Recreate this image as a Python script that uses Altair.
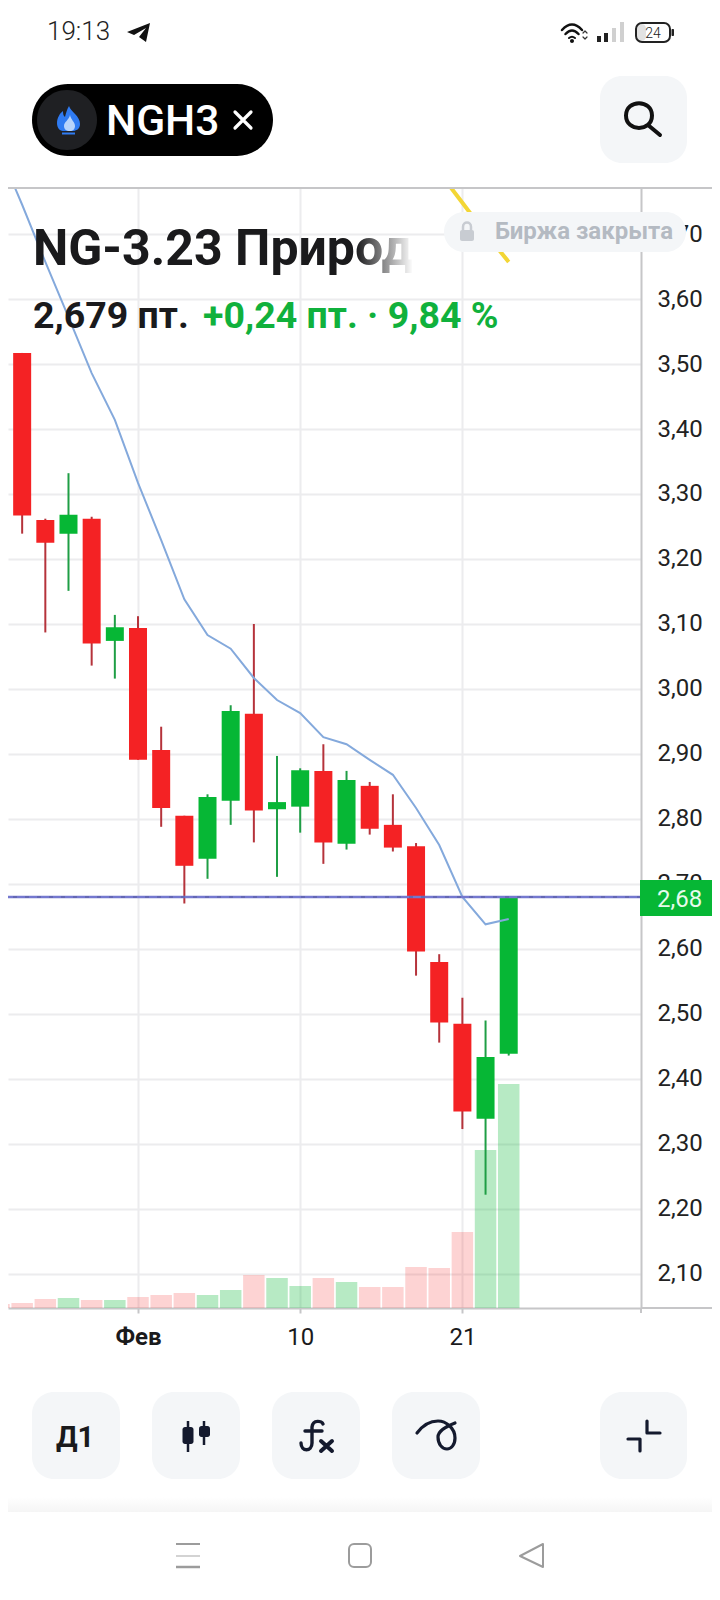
import re
import altair as alt
import pandas as pd

# ---------- chart data ----------
days   = list(range(-6, 17))
opens  = [3.548,3.517,3.260,3.239,3.262,3.074,3.094,2.906,2.805,2.739,2.828,2.962,2.815,2.819,2.874,2.762,2.851,2.791,2.758,2.580,2.485,2.339,2.439]
closes = [3.517,3.267,3.225,3.268,3.070,3.095,2.891,2.817,2.728,2.834,2.966,2.813,2.826,2.875,2.764,2.860,2.785,2.756,2.596,2.487,2.350,2.434,2.680]
highs  = [3.548,3.517,3.262,3.332,3.265,3.114,3.112,2.942,2.805,2.838,2.975,3.100,2.897,2.878,2.915,2.874,2.857,2.838,2.763,2.592,2.525,2.490,2.680]
lows   = [3.517,3.239,3.087,3.151,3.036,3.016,2.891,2.788,2.670,2.708,2.791,2.764,2.711,2.779,2.731,2.753,2.776,2.750,2.559,2.456,2.323,2.222,2.436]
volumes= [4,5,9,10,8,8,11,13,15,13,18,33,30,22,30,26,21,21,41,40,76,158,224]
ma_fast= [3.829,3.745,3.657,3.572,3.486,3.414,3.317,3.229,3.138,3.083,3.062,3.017,2.983,2.963,2.926,2.915,2.891,2.868,2.817,2.760,2.680,2.638,2.646]
ma_slow_days = [13,14,15,16]
ma_slow = [3.795,3.748,3.701,3.657]
price_ticks = [2.1,2.2,2.3,2.4,2.5,2.6,2.7,2.8,2.9,3.0,3.1,3.2,3.3,3.4,3.5,3.6,3.7]
date_ticks = [0,7,14]
date_labels = ["Фев","10","21"]
last_price = 2.68

df = pd.DataFrame(dict(day=days,open=opens,close=closes,high=highs,low=lows,vol=volumes,ma=ma_fast))
df["top"] = df[["open","close"]].max(axis=1)
df["bot"] = df[["open","close"]].min(axis=1)
df_slow = pd.DataFrame(dict(day=ma_slow_days,ma=ma_slow))

# ---------- palette ----------
RED="#f42224"; GREEN="#06b735"; RED_W="#b5333b"; GREEN_W="#1f9e45"
GRID="#ececee"; AXIS="#c6c6c8"; BTN="#f4f6f8"; INK="#1a1a1c"; ICON="#141a2e"; FONT="Roboto"

# ---------- layout ----------
PW,PH=633,1120; OX,OY=8,188
xs=alt.Scale(domain=[-5.611,21.709],nice=False,zero=False,padding=0)
ys=alt.Scale(domain=[2.04769,3.77077],nice=False,zero=False)
vs=alt.Scale(domain=[0,1120],nice=False,zero=False)
X=alt.X("day:Q",scale=xs,axis=None)
up="datum.close > datum.open"

label_js="{" + ",".join(f"'{t}':'{l}'" for t,l in zip(date_ticks,date_labels)) + "}"
x_axis=alt.Axis(values=date_ticks,title=None,grid=True,gridColor=GRID,gridWidth=2,domainColor=AXIS,domainWidth=2,
    tickColor=AXIS,tickWidth=2,tickSize=5,labelFont=FONT,labelFontSize=24,labelColor=INK,labelPadding=12,
    labelExpr=f"{label_js}[datum.value]",labelFontWeight={"expr":"datum.value == 0 ? 'bold' : 'normal'"})
y_axis=alt.Axis(orient="right",values=price_ticks,title=None,grid=True,gridColor=GRID,gridWidth=2,domainColor=AXIS,domainWidth=2,
    ticks=False,labelFont=FONT,labelFontSize=24,labelColor="#222222",labelPadding=16,labelOverlap=False,labelBound=False,
    labelExpr="replace(format(datum.value,'.2f'),'.',',')")

vol=alt.Chart(df).mark_bar(size=21.5,clip=True,orient="vertical").encode(
    x=alt.X("day:Q",scale=xs,axis=x_axis),
    y=alt.Y("vol:Q",scale=vs,axis=None,stack=None),
    color=alt.condition(up,alt.value("rgba(6,183,53,0.29)"),alt.value("rgba(244,33,36,0.2)")))
wicks=alt.Chart(df).mark_rule(strokeWidth=2,clip=True).encode(
    x=X,y=alt.Y("low:Q",scale=ys,axis=y_axis),y2="high:Q",
    color=alt.condition(up,alt.value(GREEN_W),alt.value(RED_W)))
bodies=alt.Chart(df).mark_bar(size=18,clip=True,orient="vertical").encode(
    x=X,y=alt.Y("bot:Q",scale=ys,axis=None),y2="top:Q",
    color=alt.condition(up,alt.value(GREEN),alt.value(RED)))
ma=alt.Chart(df).mark_line(color="#84a9dc",strokeWidth=2,clip=True).encode(x=X,y=alt.Y("ma:Q",scale=ys,axis=None))
slow=alt.Chart(df_slow).mark_line(color="#f3d635",strokeWidth=4,clip=True).encode(x=X,y=alt.Y("ma:Q",scale=ys,axis=None))
pl=pd.DataFrame({"p":[last_price]})
pline=alt.Chart(pl).mark_rule(color="#7478cf",strokeWidth=2.5).encode(y=alt.Y("p:Q",scale=ys,axis=None))
pdash=alt.Chart(pl).mark_rule(color="#55589a",strokeWidth=1,strokeDash=[4,8]).encode(y=alt.Y("p:Q",scale=ys,axis=None))

# ---------- interface chrome (page coordinates) ----------
one=pd.DataFrame({"a":[0]})
def vx(p): return alt.value(p-OX)
def vy(p): return alt.value(p-OY)
def rect(x0,y0,x1,y1,fill,r=0,**kw):
    return alt.Chart(one).mark_rect(fill=fill,cornerRadius=r,**kw).encode(x=vx(x0),x2=vx(x1),y=vy(y0),y2=vy(y1))
def line(x0,y0,x1,y1,color,w=2):
    return alt.Chart(one).mark_rule(color=color,strokeWidth=w).encode(x=vx(x0),x2=vx(x1),y=vy(y0),y2=vy(y1))
def text(s,x,y,size,color=INK,weight=400,align="left",**kw):
    return alt.Chart(one).mark_text(font=FONT,fontSize=size,fontWeight=weight,color=color,align=align,baseline="alphabetic",**kw).encode(
        x=vx(x),y=vy(y),text=alt.value(s))
def icon(path,fill=None,stroke=None,w=2):
    cx,cy=360,800; R=1000.0
    nums=iter(range(10**6))
    def conv(m):
        i=next(nums); v=float(m.group(0))
        return f"{(v-(cx if i%2==0 else cy))/R:.5f}"
    p=re.sub(r"-?\d+(\.\d+)?",conv,path)
    kw=dict(shape=p,size=(2*R)**2,opacity=1)
    if fill: kw.update(fill=fill,filled=True)
    else: kw.update(filled=False,fill="transparent")
    if stroke: kw.update(stroke=stroke,strokeWidth=w,strokeCap="round",strokeJoin="round")
    else: kw.update(strokeWidth=0)
    return alt.Chart(one).mark_point(**kw).encode(x=vx(cx),y=vy(cy))

fade=alt.LinearGradient(gradient="linear",x1=0,x2=1,y1=0,y2=0,stops=[
    alt.GradientStop(color=INK,offset=0),alt.GradientStop(color=INK,offset=0.85),
    alt.GradientStop(color="#ffffff",offset=1)])
shadow=alt.LinearGradient(gradient="linear",x1=0,x2=0,y1=0,y2=1,stops=[
    alt.GradientStop(color="#ffffff",offset=0),alt.GradientStop(color="#f5f5f5",offset=1)])

chrome=[
    line(8,188,720,188,AXIS,2), line(641,1308,720,1308,AXIS,2), line(641,1308,641,1313,AXIS,2),
    rect(444,212,686,252,BTN,20),
    rect(460,230,474,241,"#c8ccd2",2),
    icon("M463 230 L463 227 C463 221 471 221 471 227 L471 230",stroke="#c8ccd2",w=2.5),
    text("Биржа закрыта",495,239,24,"#b4bac2",700),
    alt.Chart(one).mark_text(font=FONT,fontSize=50,fontWeight=700,fill=fade,align="left",baseline="alphabetic").encode(
        x=vx(33),y=vy(265),text=alt.value("NG-3.23 Природ")),
    text("2,679 пт.",33,328,37.5,INK,700),
    text("+0,24 пт. · 9,84 %",203,328,37.5,"#10b13c",700),
    rect(640,880,720,916,GREEN),
    text("2,68",657,907,24,"#e6fbec",400),
    text("19:13",47,40,26,"#222222",300),
    icon("M127 32 L150 23 L146 42 L139 37 L146 28 L134 35 Z",fill="#111111"),
    icon("M562 30 Q572 19 582 30",stroke="#111111",w=2.5),
    icon("M565.5 34 Q572 27 578.5 34",stroke="#111111",w=2.5),
    icon("M569 38 Q572 35.5 575 38",stroke="#111111",w=2),
    rect(570,39,574,43,"#111111",2),
    icon("M583 33 L585 31 L587 33",stroke="#333333",w=1.2),
    icon("M583 37 L585 39 L587 37",stroke="#333333",w=1.2),
    rect(597,36,601,42,"#222222"), rect(604,33,608,42,"#222222"),
    rect(612,28,616,42,"#d0d0d0"), rect(620,22,624,42,"#d0d0d0"),
    rect(637,24,646,41,"#e2e2e2",5),
    alt.Chart(one).mark_rect(fill="transparent",stroke="#222222",strokeWidth=2,cornerRadius=6).encode(x=vx(636),x2=vx(670),y=vy(23),y2=vy(42)),
    rect(671.5,29,674,36,"#222222",1),
    text("24",653,38,14,"#222222",300,"center"),
    rect(32,84,273,156,"#000000",36),
    rect(37,90,97,150,"#1f2023",30),
    icon("M69 106 C71 112 80 116 80 124 C80 129 76 131 73 131 L63 131 C59 131 57 127 57 123 C57 118 60 113 63 111 C63 115 64 116 65 117 C66 113 67 109 69 106 Z",fill="#2f7bf2"),
    icon("M70 115 C71 120 75 122 75 126 C75 129 73 131 70 131 C66 131 64 129 64 126 C64 122 69 120 70 115 Z",fill="#b8d4fb"),
    line(62,133.5,75,133.5,"#2f7bf2",2),
    text("NGH3",106,135,42.5,"#ffffff",500),
    icon("M235 112 L251 128 M251 112 L235 128",stroke="#ffffff",w=3.2),
    rect(600,76,687,163,BTN,22),
    icon("M626 115.5 C626 99 652 99 652 115.5 C652 132 626 132 626 115.5 Z M648 125 L660 135",stroke="#111111",w=4),
    rect(32,1392,120,1479,BTN,22), rect(152,1392,240,1479,BTN,22), rect(272,1392,360,1479,BTN,22),
    rect(392,1392,480,1479,BTN,22), rect(600,1392,687,1479,BTN,22),
    text("Д1",75,1447,29,"#1a1a1c",700,"center"),
    line(188,1421,188,1452,ICON,2.5), rect(182.5,1427,193.5,1444,ICON,2.5),
    line(204,1421,204,1445,ICON,2.5), rect(199,1426,210,1437,ICON,2.5),
    icon("M323 1424 C322 1421 313 1419 312 1427 L312 1443 C312 1452 301 1452 301 1443 M305 1431 L322 1431",stroke=ICON,w=3.4),
    icon("M321 1441 L332 1451 M332 1441 L321 1451",stroke=ICON,w=4),
    icon("M417 1433 C423 1425 431 1421 438 1421 C446 1421 455 1428 455 1438 C455 1445 451 1449 447 1449 C442 1449 438 1444 438 1437 C438 1431 445 1427 455 1423",stroke=ICON,w=3.2),
    icon("M628 1439 L640 1439 L640 1451 M647 1421 L647 1433 L660 1433",stroke=ICON,w=3.2),
    rect(8,1497,720,1512,shadow),
    line(176,1544,200,1544,"#9c9c9c",2), line(176,1556,200,1556,"#c4c4c4",1.5), line(176,1567,200,1567,"#9c9c9c",2.5),
    alt.Chart(one).mark_rect(fill="transparent",stroke="#9c9c9c",strokeWidth=2,cornerRadius=5).encode(x=vx(349),x2=vx(371),y=vy(1544),y2=vy(1567)),
    icon("M520 1556 L543 1544 L543 1567 Z",stroke="#9c9c9c",w=2),
]

chart=alt.layer(vol,wicks,bodies,slow,ma,pline,pdash,*chrome).resolve_scale(y="independent").resolve_axis(x="independent",y="independent").properties(
    width=PW,height=PH,
    padding={"left":0,"top":OY-OX,"right":704-PW,"bottom":1592-OY+OX-PH},
    autosize=alt.AutoSizeParams(type="none"),
    background="white"
).configure_view(stroke=None)

chart.save("out.html",embed_options={"renderer":"svg","actions":False})
